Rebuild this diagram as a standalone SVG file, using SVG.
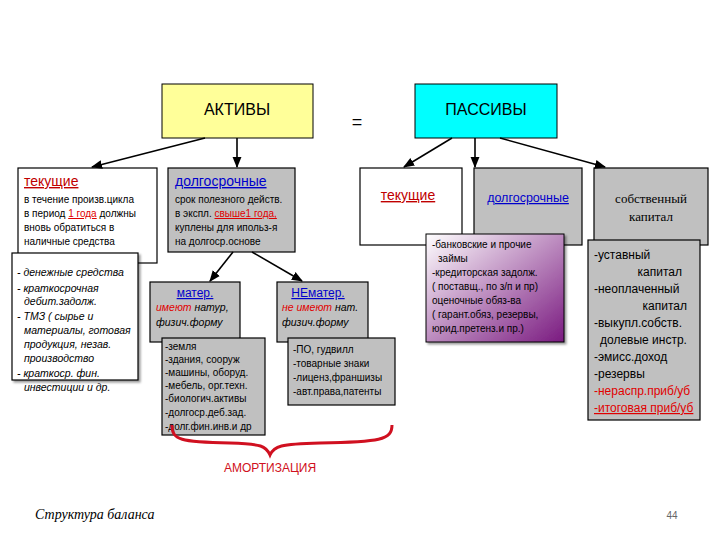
<svg xmlns="http://www.w3.org/2000/svg" width="720" height="540" viewBox="0 0 720 540">
<defs>
<style>
text{font-family:"Liberation Sans",Arial,sans-serif;fill:#000}
.w{fill:#fff;stroke:#000;stroke-width:1.2}
.g{fill:#c0c0c0;stroke:#000;stroke-width:1.2}
.s{font-size:10px}
.i{font-style:italic;font-size:10.5px}
.h{font-size:14px;text-decoration:underline}
.c{stroke:#000;stroke-width:1.6;fill:none;marker-end:url(#a)}
</style>
<marker id="a" viewBox="0 0 10 10" refX="9" refY="5" markerWidth="7" markerHeight="7" orient="auto"><path d="M0,1L10,5L0,9z" fill="#000"/></marker>
<linearGradient id="p" x1="0" y1="0" x2="1" y2="1"><stop offset="0" stop-color="#fff"/><stop offset="1" stop-color="#7a1a80"/></linearGradient>
<filter id="sh"><feDropShadow dx="2" dy="2" stdDeviation="1" flood-opacity="0.4"/></filter>
</defs>
<g id="aktivy"><rect x="162" y="84" width="151" height="54" fill="#ffff99" stroke="#000"/><text x="237" y="115" text-anchor="middle" font-size="16">АКТИВЫ</text></g>
<text x="357" y="128" text-anchor="middle" font-size="18">=</text>
<g id="passivy"><rect x="415" y="84" width="142" height="54" fill="#00ffff" stroke="#000"/><text x="486" y="115" text-anchor="middle" font-size="16">ПАССИВЫ</text></g>
<g id="tek-l"><rect class="w" x="18" y="168" width="139" height="95"/>
<text x="24" y="186" class="h" fill="#c00000" style="fill:#c00000">текущие</text>
<text class="s" x="24" y="203">в течение произв.цикла</text>
<text class="s" x="24" y="217">в период <tspan fill="#e00000" text-decoration="underline">1 года</tspan> должны</text>
<text class="s" x="24" y="231">вновь обратиться в</text>
<text class="s" x="24" y="245">наличные средства</text></g>
<g id="tek-list"><rect class="w" x="12" y="253" width="126" height="127" filter="url(#sh)"/>
<text class="i" x="17" y="276">- денежные средства</text>
<text class="i" x="17" y="292">- краткосрочная</text>
<text class="i" x="24" y="305">дебит.задолж.</text>
<text class="i" x="17" y="320">- ТМЗ  ( сырье и</text>
<text class="i" x="24" y="334">материалы, готовая</text>
<text class="i" x="24" y="348">продукция, незав.</text>
<text class="i" x="24" y="362">производство</text>
<text class="i" x="17" y="377">- краткоср. фин.</text>
<text class="i" x="24" y="391">инвестиции и др.</text></g>
<g id="dolg-l"><rect class="g" x="168" y="168" width="127" height="84"/>
<text x="175" y="186" class="h" style="fill:#0000cc">долгосрочные</text>
<text class="s" x="175" y="203">срок полезного действ.</text>
<text class="s" x="175" y="217">в экспл. <tspan fill="#e00000" text-decoration="underline">свыше1 года,</tspan></text>
<text class="s" x="175" y="231">куплены  для ипольз-я</text>
<text class="s" x="175" y="245">на долгоср.основе</text></g>
<g id="mater"><rect class="g" x="150" y="282" width="90" height="60"/>
<text x="195" y="297" text-anchor="middle" font-size="12" text-decoration="underline" style="fill:#0000cc">матер.</text>
<text class="i" x="156" y="311"><tspan fill="#e00000">имеют</tspan> натур,</text>
<text class="i" x="156" y="326">физич.форму</text></g>
<g id="mater-list"><rect class="g" x="162" y="338" width="103" height="97"/>
<text class="s" x="165" y="350">-земля</text>
<text class="s" x="165" y="363">-здания, сооруж</text>
<text class="s" x="165" y="376">-машины, оборуд.</text>
<text class="s" x="165" y="389">-мебель, орг.техн.</text>
<text class="s" x="165" y="402">-биологич.активы</text>
<text class="s" x="165" y="416">-долгоср.деб.зад.</text>
<text class="s" x="165" y="430">-долг.фин.инв.и др</text></g>
<g id="nemater"><rect class="g" x="277" y="282" width="91" height="60"/>
<text x="318" y="297" text-anchor="middle" font-size="12" text-decoration="underline" style="fill:#0000cc">НЕматер.</text>
<text class="i" x="282" y="311"><tspan fill="#e00000">не имеют</tspan> нат.</text>
<text class="i" x="282" y="326">физич.форму</text></g>
<g id="nemater-list"><rect class="g" x="288" y="338" width="107" height="67"/>
<text class="s" x="293" y="353">-ПО, гудвилл</text>
<text class="s" x="293" y="367">-товарные знаки</text>
<text class="s" x="293" y="381">-лиценз,франшизы</text>
<text class="s" x="293" y="395">-авт.права,патенты</text></g>
<g id="tek-r"><rect class="w" x="360" y="168" width="102" height="77"/><text x="408" y="200" text-anchor="middle" class="h" style="fill:#c00000">текущие</text></g>
<g id="dolg-r"><rect class="g" x="474" y="168" width="108" height="77"/><text x="528" y="202" text-anchor="middle" font-size="12.5" text-decoration="underline" style="fill:#0000cc">долгосрочные</text></g>
<g id="sk"><rect class="g" x="594" y="168" width="114" height="77"/><text x="651" y="203" text-anchor="middle" font-family="Liberation Serif" style="font-family:'Liberation Serif',serif" font-size="13">собственный</text><text x="651" y="221" text-anchor="middle" style="font-family:'Liberation Serif',serif" font-size="13">капитал</text></g>
<g id="pass-list"><rect x="426" y="234" width="138" height="108" fill="url(#p)" stroke="#000" filter="url(#sh)"/>
<text class="s" x="432" y="248">-банковские и  прочие</text>
<text class="s" x="438" y="262">займы</text>
<text class="s" x="432" y="276">-кредиторская задолж.</text>
<text class="s" x="432" y="290">( поставщ., по з/п и пр)</text>
<text class="s" x="432" y="304">оценочные обяз-ва</text>
<text class="s" x="432" y="318">( гарант.обяз, резервы,</text>
<text class="s" x="432" y="332">юрид.претенз.и  пр.)</text></g>
<g id="sk-list" font-size="12"><rect class="g" x="588" y="240" width="112" height="180"/>
<text x="594" y="259" font-size="12">-уставный</text>
<text x="682" y="276" font-size="12" text-anchor="end">капитал</text>
<text x="594" y="293" font-size="12">-неоплаченный</text>
<text x="687" y="310" font-size="12" text-anchor="end">капитал</text>
<text x="594" y="327" font-size="12">-выкупл.собств.</text>
<text x="600" y="344" font-size="12">долевые инстр.</text>
<text x="594" y="361" font-size="12">-эмисс.доход</text>
<text x="594" y="378" font-size="12">-резервы</text>
<text x="594" y="395" font-size="12" style="fill:#e00000">-нераспр.приб/уб</text>
<text x="594" y="412" font-size="12" style="fill:#e00000" text-decoration="underline">-итоговая приб/уб</text></g>
<g id="connectors">
<path class="c" d="M205,138L92,167"/>
<path class="c" d="M237,138L237,167"/>
<path class="c" d="M452,138L404,167"/>
<path class="c" d="M475,138L475,167"/>
<path class="c" d="M500,138L605,167"/>
<path class="c" d="M233,252L210,281"/>
<path class="c" d="M252,252L302,281"/>
</g>
<path d="M172,425C172,440 180,442 230,443C262,444 266,446 270,455C274,446 280,444 320,443C380,442 392,440 392,425" fill="none" stroke="#d01020" stroke-width="3"/>
<text x="270" y="472" text-anchor="middle" font-size="12" style="fill:#d01020">АМОРТИЗАЦИЯ</text>
<text x="35" y="519" font-size="14" font-style="italic" style="font-family:'Liberation Serif',serif">Структура баланса</text>
<text x="672" y="519" font-size="10" text-anchor="middle" style="fill:#666">44</text>
</svg>
